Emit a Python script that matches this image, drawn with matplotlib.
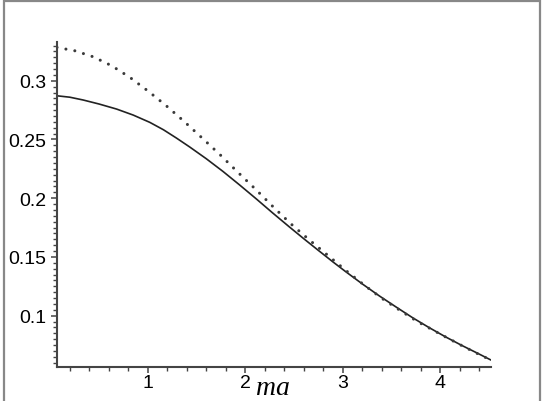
import matplotlib.pyplot as plt
import matplotlib.patches as patches
from matplotlib.ticker import MultipleLocator

# values
ma_solid = [0.0686, 0.200, 0.338, 0.500, 0.680, 0.850, 1.020, 1.160, 1.294,
            1.430, 1.600, 1.771, 1.940, 2.113, 2.280, 2.453, 2.600, 2.743,
            2.900, 3.034, 3.204, 3.375, 3.546, 3.715, 3.886, 4.057, 4.227,
            4.380, 4.518]
val_solid = [0.2872, 0.2860, 0.2836, 0.2802, 0.2759, 0.2708, 0.2646, 0.2583, 0.2512,
             0.2436, 0.2336, 0.2228, 0.2114, 0.1994, 0.1875, 0.1755, 0.1655, 0.1560,
             0.1457, 0.1372, 0.1268, 0.1168, 0.1074, 0.0983, 0.0898, 0.0818, 0.0744,
             0.0681, 0.0623]

ma_dot = [0.0686, 0.253, 0.440, 0.629, 0.816, 1.003, 1.184, 1.372, 1.558,
          1.744, 1.925, 2.113, 2.290, 2.470, 2.658, 2.840, 3.034, 3.220,
          3.400, 3.580, 3.767, 4.040, 4.228, 4.415, 4.518]
val_dot = [0.3284, 0.3255, 0.3204, 0.3128, 0.3029, 0.2912, 0.2791, 0.2654, 0.2512,
           0.2368, 0.2220, 0.2070, 0.1923, 0.1780, 0.1644, 0.1518, 0.1383, 0.1260,
           0.1148, 0.1049, 0.0949, 0.0825, 0.0742, 0.0663, 0.0623]

xticks = [1, 2, 3, 4]
yticks = [0.1, 0.15, 0.2, 0.25, 0.3]
ytick_labels = ['0.1', '0.15', '0.2', '0.25', '0.3']

plt.rcParams['font.family'] = ['Liberation Sans', 'DejaVu Sans']

fig = plt.figure(figsize=(5.45, 4.02), dpi=100)
ax = fig.add_axes([57 / 545, 34 / 402, 434 / 545, 325 / 402])

ax.plot(ma_solid, val_solid, color='#222222', lw=1.2)
lw_dot = 2.2
ax.plot(ma_dot, val_dot, color='#3a3a3a', lw=lw_dot,
        linestyle=(0, (0.01, 6.5 / lw_dot)), dash_capstyle='round')

ax.set_xlim(0.0686, 4.52)
ax.set_ylim(0.0563, 0.333)

for s in ['top', 'right']:
    ax.spines[s].set_visible(False)
for s in ['left', 'bottom']:
    ax.spines[s].set_linewidth(1.5)
    ax.spines[s].set_color('#444444')

ax.set_xticks(xticks)
ax.set_xticklabels([str(t) for t in xticks])
ax.set_yticks(yticks)
ax.set_yticklabels(ytick_labels)
ax.xaxis.set_minor_locator(MultipleLocator(0.2))
ax.yaxis.set_minor_locator(MultipleLocator(0.005))
ax.tick_params(which='major', length=4.5, width=1.1, color='#444444', labelsize=14)
ax.tick_params(axis='x', which='major', pad=0.5)
ax.tick_params(axis='y', which='major', pad=3.5)
ax.tick_params(which='minor', length=2.8, width=1.0, color='#444444')

ax.set_xlabel('ma', family=['Liberation Serif', 'DejaVu Serif'], style='italic', fontsize=20)
ax.xaxis.set_label_coords((273 - 57) / 434, -0.025)
ax.xaxis.label.set_va('top')

# grey frame around the whole picture
fig.patches.append(patches.Rectangle((4 / 545, -0.02), 536 / 545, 1.0 - 2 / 402 + 0.02,
                                     transform=fig.transFigure, fill=False,
                                     edgecolor='#888888', lw=1.6))

fig.savefig('out.png', dpi=100)
